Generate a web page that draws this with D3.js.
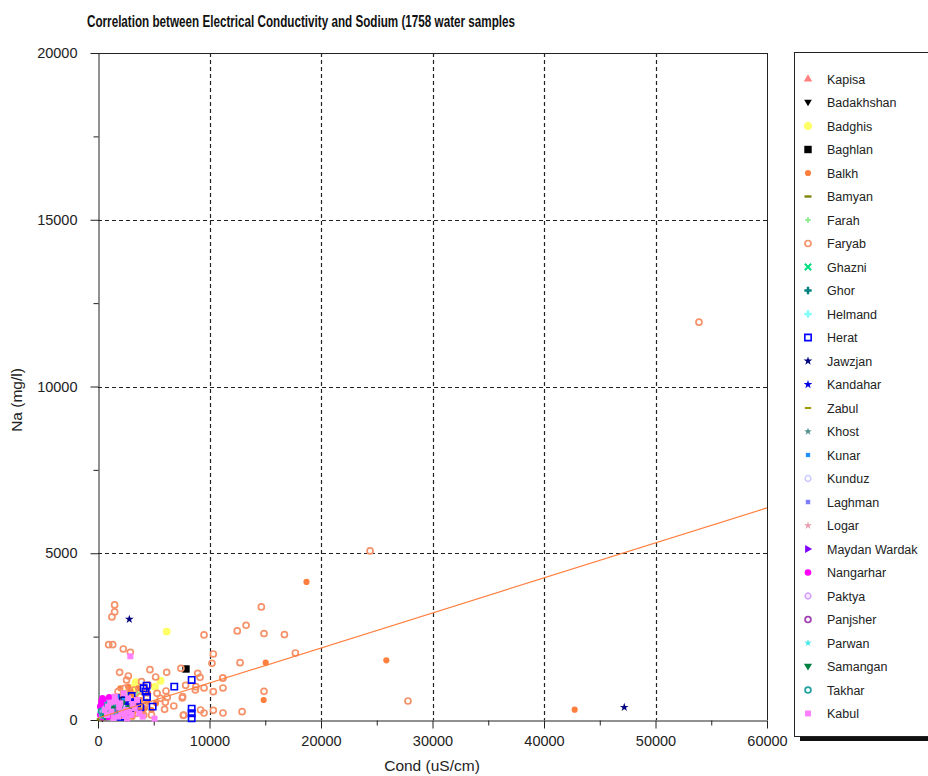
<!DOCTYPE html>
<html><head><meta charset="utf-8">
<script src="https://cdn.jsdelivr.net/npm/d3@7"></script>
<style>body{margin:0;background:#fff}svg{display:block}text{font-family:"Liberation Sans",Arial,sans-serif}</style>
</head><body><svg id="c" width="928" height="776"></svg>
<script>
// ---------------- DATA ----------------
const title = "Correlation between Electrical Conductivity and Sodium (1758 water samples";
const xLabel = "Cond (uS/cm)";
const yLabel = "Na (mg/l)";
const xTicks = [0,10000,20000,30000,40000,50000,60000];
const yTicks = [0,5000,10000,15000,20000];
const xMinor = [5000,15000,25000,35000,45000,55000];
const yMinor = [2500,7500,12500,17500];
const provinces = ["Kapisa","Badakhshan","Badghis","Baghlan","Balkh","Bamyan","Farah","Faryab","Ghazni","Ghor","Helmand","Herat","Jawzjan","Kandahar","Zabul","Khost","Kunar","Kunduz","Laghman","Logar","Maydan Wardak","Nangarhar","Paktya","Panjsher","Parwan","Samangan","Takhar","Kabul"];
// regression line: Na = a + b*Cond
const regression = {intercept: 60, slope: 0.105};

const Kapisa = [[600,150],[1000,300],[800,80],[1300,220],[450,60]];
const Badakhshan = [[400,50],[700,100],[300,80],[900,180]];
const Badghis = [[6160,2650],[3380,1130],[5610,1180],[5110,1000],[2500,800],[3000,450],[1800,600],[4000,300],[3300,1000],[3600,850],[2900,700]];
const Baghlan = [[7890,1530],[1000,200],[1700,380]];
const Balkh = [[18700,4140],[15040,1720],[25860,1790],[14860,600],[42750,310],[2200,700],[2600,550],[3000,800],[3400,450],[2800,300],[3800,600],[4200,350],[1900,250],[2400,150],[3100,100],[4500,800],[3600,950],[2000,950],[5200,500],[1600,400],[4000,200],[2700,1000],[3300,650],[2500,420],[3700,300],[4400,550],[2100,120],[2900,880],[3200,250],[4800,300],[1800,700]];
const Bamyan = [[200,20],[400,40],[600,30],[900,60],[1200,80]];
const Farah = [[2000,400],[2800,600],[3500,800],[1500,300],[2300,250]];
const Faryab = [[53900,11930],[24400,5070],[14650,3390],[13280,2840],[12490,2670],[9510,2550],[14890,2590],[16720,2560],[17700,2010],[10340,1980],[10220,1700],[12740,1720],[27800,570],[8940,1400],[9150,1280],[7860,1040],[8730,900],[9510,960],[11210,1260],[11210,960],[14890,860],[7560,660],[9200,300],[9510,210],[10340,290],[11210,210],[12920,250],[7650,140],[1490,3450],[1490,3240],[1250,3090],[960,2260],[1320,2260],[2270,2130],[2900,2030],[4660,1510],[1940,1430],[2720,1320],[5170,1290],[6160,1430],[7440,1550],[2560,1200],[6100,870],[6040,530],[6210,680],[7590,700],[5970,320],[7680,150],[8780,1000],[10340,850],[11180,1260],[3200,900],[3800,700],[2500,600],[4200,450],[3000,350],[5300,800],[4500,1050],[1800,850],[2200,400],[3500,200],[4800,150],[1500,500],[3900,1150],[4300,820],[2400,950],[3600,520],[5600,650],[6800,420],[4100,150],[2800,120]];
const Ghazni = [[500,100],[900,250],[1300,350],[1700,200]];
const Ghor = [[700,200],[1100,150],[1600,250],[2100,330]];
const Helmand = [[1800,500],[2500,700],[3000,550],[1200,300],[2200,420]];
const Herat = [[8400,1200],[8400,340],[8400,200],[8400,50],[4360,1030],[6840,1000],[4270,850],[4390,690],[3010,720],[4900,400],[2400,600],[1800,300],[3500,500],[2600,250],[1200,500],[4100,950],[2000,100],[2800,480],[3800,380],[1600,650]];
const Jawzjan = [[47200,380],[2810,3020],[1500,400],[2200,650],[900,300],[3000,250],[1900,520],[2500,330]];
const Kandahar = [[1200,550],[2000,350],[700,150],[2600,450],[1600,200],[900,500]];
const Zabul = [[1500,200],[2200,300],[1000,150]];
const Khost = [[800,200],[1200,250],[1600,320]];
const Kunar = [[1100,600],[1700,700],[800,350],[2300,600],[1400,150],[600,480],[1900,420]];
const Kunduz = [[1200,350],[1800,450],[2400,350],[700,250]];
const Laghman = [[900,450],[1500,350],[600,200],[2100,450],[1300,620]];
const Logar = [[900,200],[1300,100],[500,250]];
const MaydanWardak = [[600,200],[1000,100],[1400,300],[500,420]];
const Nangarhar = [[300,200],[500,500],[800,600],[1000,350],[400,650],[1200,150],[700,450],[1500,300],[200,400],[900,100],[600,250],[1100,500],[300,550],[500,320],[800,220],[1300,420],[1700,250],[400,80],[200,150],[1000,680],[600,600]];
const Paktya = [[700,350],[1000,450],[400,200],[1500,560]];
const Panjsher = [[600,150],[900,250],[1300,330]];
const Parwan = [[400,300],[800,500],[1200,400],[300,100],[1000,250]];
const Samangan = [[1900,300],[1000,200],[2500,150],[1400,450],[600,100],[2200,500],[1600,80],[2800,360],[1200,320]];
const Takhar = [[700,300],[1300,250],[1700,500],[500,150],[2000,200],[900,450],[1500,120],[300,260]];
const Kabul = [[2900,1910],[5070,40],[1500,700],[2000,500],[2500,300],[3000,150],[1200,250],[3500,600],[1800,100],[2300,800],[900,400],[2700,650],[3300,350],[4000,100],[1600,550],[2100,200],[600,300],[1400,60],[2600,50],[3100,480],[1900,380],[2400,120],[3700,200],[800,150],[1100,520],[2800,250]];

const seriesValues = [Kapisa,Badakhshan,Badghis,Baghlan,Balkh,Bamyan,Farah,Faryab,Ghazni,Ghor,Helmand,Herat,Jawzjan,Kandahar,Zabul,Khost,Kunar,Kunduz,Laghman,Logar,MaydanWardak,Nangarhar,Paktya,Panjsher,Parwan,Samangan,Takhar,Kabul];

// ---------------- STYLE ----------------
const dash = {draw(ctx,size){const w=Math.sqrt(size)*1.4,h=w/3;ctx.rect(-w/2,-h/2,w,h);}};
const triRight = {draw(ctx,size){const s=Math.sqrt(size)*0.75;ctx.moveTo(s,0);ctx.lineTo(-s*0.7,-s);ctx.lineTo(-s*0.7,s);ctx.closePath();}};
const triDown = {draw(ctx,size){const s=Math.sqrt(size)*0.7;ctx.moveTo(0,s);ctx.lineTo(-s,-s*0.7);ctx.lineTo(s,-s*0.7);ctx.closePath();}};
const styles = {
 "Kapisa":{type:d3.symbolTriangle,size:30,fill:"#ff7f7f"},
 "Badakhshan":{type:triDown,size:30,fill:"#000"},
 "Badghis":{type:d3.symbolCircle,size:50,fill:"#ffff66"},
 "Baghlan":{type:d3.symbolSquare,size:55,fill:"#000"},
 "Balkh":{type:d3.symbolCircle,size:30,fill:"#ff7f3f"},
 "Bamyan":{type:dash,size:25,fill:"#808000"},
 "Farah":{type:d3.symbolCross,size:18,fill:"#90ee90"},
 "Faryab":{type:d3.symbolCircle,size:28,fill:"none",stroke:"#f5926a",sw:1.7},
 "Ghazni":{type:d3.symbolTimes,size:28,fill:"none",stroke:"#00e080",sw:2},
 "Ghor":{type:d3.symbolCross,size:30,fill:"#008080"},
 "Helmand":{type:d3.symbolCross,size:30,fill:"#80ffff"},
 "Herat":{type:d3.symbolSquare,size:40,fill:"none",stroke:"#0000ff",sw:1.6},
 "Jawzjan":{type:d3.symbolStar,size:24,fill:"#000080"},
 "Kandahar":{type:d3.symbolStar,size:24,fill:"#0000e0"},
 "Zabul":{type:dash,size:20,fill:"#a09a00"},
 "Khost":{type:d3.symbolStar,size:18,fill:"#4f8f8f"},
 "Kunar":{type:d3.symbolSquare,size:18,fill:"#1e90ff"},
 "Kunduz":{type:d3.symbolCircle,size:26,fill:"none",stroke:"#c8c8ff",sw:1.5},
 "Laghman":{type:d3.symbolSquare,size:20,fill:"#7f7fff"},
 "Logar":{type:d3.symbolStar,size:20,fill:"#e8a0b0"},
 "Maydan Wardak":{type:triRight,size:30,fill:"#8000ff"},
 "Nangarhar":{type:d3.symbolCircle,size:34,fill:"#ff00ff"},
 "Paktya":{type:d3.symbolCircle,size:26,fill:"#f4e8ff",stroke:"#d4a0ff",sw:1.5},
 "Panjsher":{type:d3.symbolCircle,size:26,fill:"none",stroke:"#a040b0",sw:1.8},
 "Parwan":{type:d3.symbolStar,size:16,fill:"#40e8e8"},
 "Samangan":{type:triDown,size:34,fill:"#008040"},
 "Takhar":{type:d3.symbolCircle,size:26,fill:"none",stroke:"#20a0a0",sw:1.8},
 "Kabul":{type:d3.symbolSquare,size:36,fill:"#ff80ff"}
};

// ---------------- DRAW ----------------
const svg = d3.select("#c");
const x = d3.scaleLinear().domain([0,60000]).range([98,767]);
const y = d3.scaleLinear().domain([0,20000]).range([720,53]);
const FONT = '"Liberation Sans",Arial,sans-serif';

svg.append("text").attr("x",87).attr("y",27).attr("font-size",17).attr("font-weight","bold")
  .attr("textLength",428).attr("lengthAdjust","spacingAndGlyphs").attr("fill","#111").text(title);

// grid
const grid = svg.append("g").attr("stroke","#222").attr("stroke-width",1.2).attr("stroke-dasharray","4,3");
grid.selectAll(".gx").data(xTicks.filter(d=>d>0&&d<60000)).join("line")
  .attr("x1",d=>Math.round(x(d))+0.5).attr("x2",d=>Math.round(x(d))+0.5).attr("y1",y(20000)).attr("y2",y(0));
grid.selectAll(".gy").data(yTicks.filter(d=>d>0&&d<20000)).join("line")
  .attr("y1",d=>Math.round(y(d))+0.5).attr("y2",d=>Math.round(y(d))+0.5).attr("x1",x(0)).attr("x2",x(60000));

// frame top/right
svg.append("line").attr("x1",x(0)).attr("x2",x(60000)+0.5).attr("y1",y(20000)+0.5).attr("y2",y(20000)+0.5).attr("stroke","#222");
svg.append("line").attr("x1",x(60000)+0.5).attr("x2",x(60000)+0.5).attr("y1",y(20000)).attr("y2",y(0)).attr("stroke","#222");

// axes
const xAxis = svg.append("g").attr("transform",`translate(0,${y(0)+0.5})`)
  .call(d3.axisBottom(x).tickValues(xTicks).tickFormat(d3.format("d")).tickSize(8).tickSizeOuter(0).tickPadding(7));
const xAxisMinor = svg.append("g").attr("transform",`translate(0,${y(0)+0.5})`)
  .call(d3.axisBottom(x).tickValues(xMinor).tickFormat("").tickSize(5).tickSizeOuter(0));
const yAxis = svg.append("g").attr("transform",`translate(${x(0)+0.5},0)`)
  .call(d3.axisLeft(y).tickValues(yTicks).tickFormat(d3.format("d")).tickSize(8).tickSizeOuter(0).tickPadding(13));
const yAxisMinor = svg.append("g").attr("transform",`translate(${x(0)+0.5},0)`)
  .call(d3.axisLeft(y).tickValues(yMinor).tickFormat("").tickSize(5).tickSizeOuter(0));
[xAxis,xAxisMinor,yAxis,yAxisMinor].forEach(g=>{
  g.selectAll("path,line").attr("stroke","#222");
  g.selectAll("text").attr("font-family",FONT).attr("font-size",14.5).attr("fill","#222");
});
xAxisMinor.select(".domain").remove(); yAxisMinor.select(".domain").remove();

svg.append("text").attr("x",432).attr("y",771).attr("text-anchor","middle").attr("font-size",15.5).attr("fill","#222").text(xLabel);
svg.append("text").attr("transform","translate(22,400) rotate(-90)").attr("text-anchor","middle").attr("font-size",15.5).attr("fill","#222").text(yLabel);

// points
const plot = svg.append("g");
provinces.forEach((p,i)=>{
  const st = styles[p];
  plot.append("g").selectAll("path").data(seriesValues[i]).join("path")
    .attr("transform",d=>`translate(${x(d[0])},${y(d[1])})`)
    .attr("d",d3.symbol().type(st.type).size(st.size))
    .attr("fill",st.fill).attr("stroke",st.stroke||"none").attr("stroke-width",st.sw||0);
});

// regression line
svg.append("line")
  .attr("x1",x(0)).attr("y1",y(regression.intercept))
  .attr("x2",x(60000)).attr("y2",y(regression.intercept+regression.slope*60000))
  .attr("stroke","#ff8040").attr("stroke-width",1.2);

// legend
svg.append("rect").attr("x",800).attr("y",737).attr("width",200).attr("height",4).attr("fill","#111");
svg.append("rect").attr("x",794.5).attr("y",52.5).attr("width",220).attr("height",684).attr("fill","#fff").attr("stroke","#222");
const lg = svg.append("g").selectAll("g").data(provinces).join("g")
  .attr("transform",(d,i)=>`translate(0,${79+i*23.5})`);
lg.append("path").attr("transform","translate(808,0)")
  .attr("d",d=>d3.symbol().type(styles[d].type).size(styles[d].size)())
  .attr("fill",d=>styles[d].fill).attr("stroke",d=>styles[d].stroke||"none").attr("stroke-width",d=>styles[d].sw||0);
lg.append("text").attr("x",827).attr("y",4.5).attr("font-size",12.5).attr("fill","#222").text(d=>d);
</script></body></html>
